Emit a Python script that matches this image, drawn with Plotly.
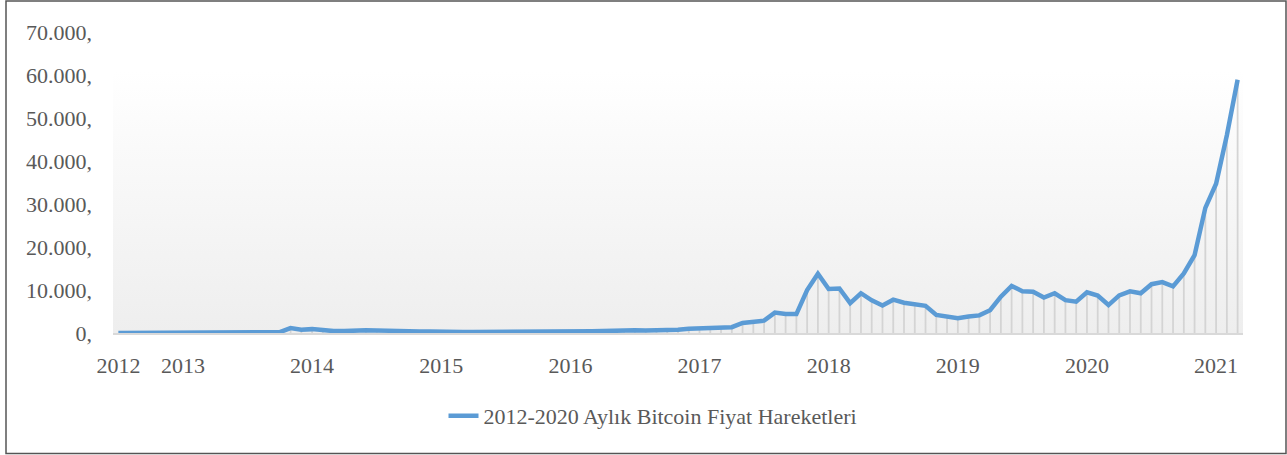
import pandas as pd
import plotly.graph_objects as go

# ---- data -------------------------------------------------------------
months = [d.strftime("%Y-%m") for d in pd.date_range("2012-07-01", "2021-03-01", freq="MS")]

prices = [
    # 2012 (Jul-Dec)
    9.4, 10.2, 12.4, 11.2, 12.6, 13.5,
    # 2013
    20.4, 33.4, 93, 139, 129, 97, 106, 135, 133, 198, 1130, 770,
    # 2014
    900, 560, 450, 445, 630, 640, 590, 480, 390, 340, 375, 320,
    # 2015
    220, 255, 245, 236, 230, 263, 285, 230, 236, 314, 377, 430,
    # 2016
    370, 437, 416, 448, 531, 673, 624, 573, 608, 700, 742, 1000,
    # 2017
    1050, 1190, 1080, 1350, 2350, 2520, 2880, 4750, 4400, 4400, 10000, 13800,
    # 2018
    10250, 10350, 6950, 9250, 7600, 6400, 7750, 7050, 6650, 6330, 4200, 3740,
    # 2019
    3450, 3830, 4100, 5300, 8450, 10950, 9700, 9600, 8250, 9250, 7650, 7300,
    # 2020
    9450, 8700, 6500, 8750, 9700, 9250, 11350, 11850, 10850, 13850, 18100, 29100,
    # 2021 (Jan-Mar)
    34700, 46000, 58900,
]

series_name = "2012-2020 Aylık Bitcoin Fiyat Hareketleri"

tick_months = ["2012-07", "2013-01", "2014-01", "2015-01", "2016-01",
               "2017-01", "2018-01", "2019-01", "2020-01", "2021-01"]
tick_labels = ["2012", "2013", "2014", "2015", "2016",
               "2017", "2018", "2019", "2020", "2021"]

y_tick_values = [0, 10000, 20000, 30000, 40000, 50000, 60000, 70000]
y_tick_labels = ["0,", "10.000,", "20.000,", "30.000,", "40.000,",
                 "50.000,", "60.000,", "70.000,"]

# ---- styling ----------------------------------------------------------
FONT = "Liberation Serif"
FONT_SIZE = 22
TEXT_COLOR = "#595959"
LINE_COLOR = "#5b9bd5"
DROP_COLOR = "#d4d4d4"
BG_TOP = 61000  # height of the gradient panel (style)

x_idx = list(range(len(months)))
tickvals = [months.index(m) for m in tick_months]

fig = go.Figure()

# gradient panel behind the data
fig.add_trace(go.Scatter(
    x=[x_idx[0] - 0.5, x_idx[-1] + 0.5, x_idx[-1] + 0.5, x_idx[0] - 0.5],
    y=[0, 0, BG_TOP, BG_TOP],
    fill="toself", mode="none",
    fillgradient=dict(type="vertical",
                      colorscale=[[0, "#eeeeee"], [1, "#ffffff"]]),
    hoverinfo="skip", showlegend=False,
))

# drop lines from each point down to the axis
fig.add_trace(go.Scatter(
    x=x_idx, y=prices, mode="markers",
    marker=dict(size=1, color="rgba(0,0,0,0)"),
    error_y=dict(type="data", symmetric=False,
                 array=[0] * len(prices), arrayminus=prices,
                 color=DROP_COLOR, thickness=1.8, width=0),
    hoverinfo="skip", showlegend=False,
))

# price line
fig.add_trace(go.Scatter(
    x=x_idx, y=prices, mode="lines", name=series_name,
    line=dict(color=LINE_COLOR, width=4.5),
    customdata=months, hovertemplate="%{customdata}: %{y}<extra></extra>",
))

W, H = 1287, 455
L, R, T, B = 113, 44, 32, 122
pw, ph = W - L - R, H - T - B


def px_x(p):
    return (p - L) / pw


def px_y(p):
    return (H - B - p) / ph


fig.update_layout(
    width=W, height=H,
    margin=dict(l=L, r=R, t=T, b=B),
    paper_bgcolor="white", plot_bgcolor="rgba(0,0,0,0)",
    font=dict(family=FONT, size=FONT_SIZE, color=TEXT_COLOR),
    showlegend=True,
    legend=dict(orientation="h", x=px_x(653), xanchor="center",
                y=px_y(416), yanchor="middle",
                font=dict(family=FONT, size=FONT_SIZE, color=TEXT_COLOR),
                bgcolor="rgba(0,0,0,0)"),
    xaxis=dict(range=[x_idx[0] - 0.5, x_idx[-1] + 0.5],
               tickmode="array", tickvals=tickvals, ticktext=tick_labels,
               showgrid=False, zeroline=False, ticks="",
               showline=True, linecolor="#d9d9d9", linewidth=1.5,
               ticklabelstandoff=12),
    yaxis=dict(range=[0, 70000],
               tickmode="array", tickvals=y_tick_values, ticktext=y_tick_labels,
               showgrid=False, zeroline=False, ticks="", showline=False,
               ticklabelstandoff=20),
    shapes=[dict(type="rect", xref="paper", yref="paper",
                 x0=px_x(6), x1=px_x(1286), y0=px_y(453.5), y1=px_y(1),
                 line=dict(color="#555555", width=1.5), layer="above")],
)

fig.write_html("out.html")
